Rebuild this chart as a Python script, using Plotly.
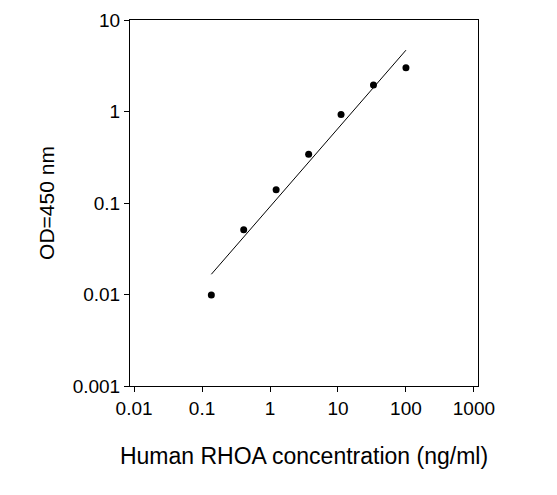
import numpy as np
import plotly.graph_objects as go

conc = [0.137, 0.41, 1.23, 3.7, 11.1, 33.3, 100]
od = [0.0099, 0.051, 0.14, 0.34, 0.93, 1.95, 3.0]
xticks = [0.01, 0.1, 1, 10, 100, 1000]
xtext = ["0.01", "0.1", "1", "10", "100", "1000"]
yticks = [0.001, 0.01, 0.1, 1, 10]
ytext = ["0.001", "0.01", "0.1", "1", "10"]

lx = np.log10(conc); ly = np.log10(od)
m, b = np.polyfit(lx, ly, 1)
fx = [conc[0], conc[-1]]
fy = [10 ** (m * np.log10(v) + b) for v in fx]

fig = go.Figure()
fig.add_trace(go.Scatter(x=fx, y=fy, mode="lines", line=dict(color="black", width=1), cliponaxis=False))
fig.add_trace(go.Scatter(x=conc, y=od, mode="markers", marker=dict(color="black", size=7), cliponaxis=False))
fnt = dict(family="Arial, Liberation Sans", size=19, color="black")
fig.update_layout(
    width=557, height=495, showlegend=False,
    plot_bgcolor="white", paper_bgcolor="white",
    margin=dict(l=122, r=87, t=12, b=117, autoexpand=False),
    font=fnt,
    xaxis=dict(type="log", range=[-2.06, 3.06], tickvals=xticks, ticktext=xtext, automargin=False,
               showgrid=False, showline=True, linecolor="black", mirror=True,
               ticks="outside", ticklen=5, tickcolor="black", zeroline=False,
               title=dict(text="Human RHOA concentration (ng/ml)", font=dict(size=23), standoff=30)),
    yaxis=dict(type="log", range=[-3, 1], tickvals=yticks, ticktext=ytext, automargin=False,
               showgrid=False, showline=True, linecolor="black", mirror=True,
               ticks="outside", ticklen=5, tickcolor="black", zeroline=False,
               title=dict(text="OD=450 nm", font=dict(size=21), standoff=12)),
)
fig.write_html("out.html")
